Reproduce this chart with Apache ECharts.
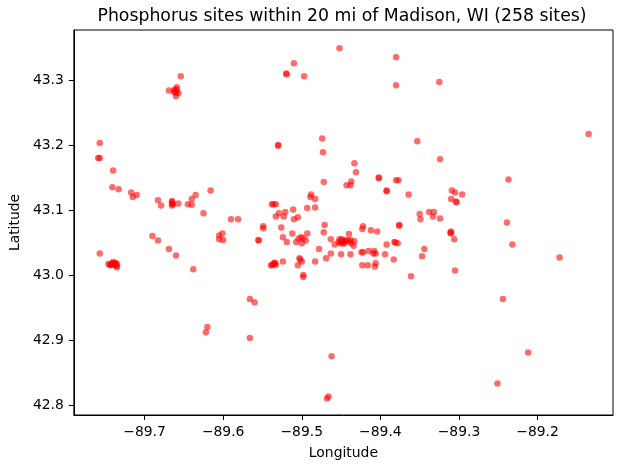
<!DOCTYPE html>
<html>
<head>
<meta charset="UTF-8">
<title>Phosphorus sites</title>
<style>
    html, body { margin: 0; padding: 0; background: #fff; }
    #chartArea { width: 623px; height: 469px; }
</style>
</head>
<body>
<div id="chartArea"></div>
<script src="https://cdn.jsdelivr.net/npm/echarts@6/dist/echarts.min.js"></script>
<script>
// site coordinates (longitude / latitude)
var lon = [
    -89.654, -89.669, -89.662, -89.659, -89.660, -89.657, -89.660, -89.661, -89.659, -89.663,
    -89.757, -89.759, -89.757, -89.740, -89.452, -89.380, -89.510, -89.520, -89.519, -89.497,
    -89.380, -89.325, -89.474, -89.530, -89.530, -89.353, -89.473, -89.324, -89.433, -89.431,
    -89.135, -89.237, -89.741, -89.733, -89.717, -89.715, -89.710, -89.683, -89.679, -89.665,
    -89.665, -89.665, -89.664, -89.665, -89.657, -89.645, -89.640, -89.640, -89.635, -89.616,
    -89.625, -89.590, -89.581, -89.549, -89.549, -89.538, -89.605, -89.601, -89.600, -89.605,
    -89.555, -89.555, -89.690, -89.683, -89.669, -89.660, -89.757,
    -89.746, -89.740, -89.738, -89.735, -89.735, -89.743, -89.741, -89.739, -89.737, -89.744,
    -89.736, -89.742, -89.638, -89.539, -89.566, -89.560, -89.620, -89.622, -89.566, -89.462,
    -89.466, -89.468, -89.244, -89.212, -89.251,
    -89.402, -89.402, -89.380, -89.377, -89.472, -89.443, -89.437, -89.438, -89.392, -89.392,
    -89.364, -89.488, -89.489, -89.483, -89.483, -89.493, -89.536, -89.533, -89.511, -89.529,
    -89.521, -89.533, -89.523, -89.505, -89.510, -89.526, -89.471, -89.472, -89.512, -89.493,
    -89.524, -89.519, -89.501, -89.504, -89.498, -89.507, -89.500, -89.495, -89.463, -89.458,
    -89.452, -89.450, -89.446, -89.453, -89.440, -89.440, -89.437, -89.433, -89.434, -89.438,
    -89.448, -89.445, -89.451, -89.443, -89.447, -89.449, -89.422, -89.423, -89.412, -89.404,
    -89.376, -89.376, -89.382, -89.378, -89.381, -89.392, -89.478, -89.469, -89.463, -89.450,
    -89.438, -89.424, -89.422, -89.415, -89.408, -89.406, -89.409, -89.394, -89.383, -89.423,
    -89.416, -89.406, -89.407, -89.502, -89.503, -89.524, -89.483, -89.535, -89.538, -89.533,
    -89.536, -89.534, -89.505, -89.500, -89.498, -89.498, -89.361, -89.344, -89.347, -89.350,
    -89.349, -89.338, -89.333, -89.332, -89.324, -89.309, -89.305, -89.296, -89.310, -89.303,
    -89.304, -89.310, -89.310, -89.311, -89.306, -89.305, -89.239, -89.232, -89.172
];
var lat = [
    43.307, 43.285, 43.286, 43.290, 43.281, 43.281, 43.276, 43.284, 43.287, 43.283,
    43.204, 43.181, 43.181, 43.162, 43.350, 43.336, 43.327, 43.311, 43.310, 43.307,
    43.293, 43.298, 43.211, 43.201, 43.200, 43.207, 43.190, 43.179, 43.173, 43.159,
    43.218, 43.148, 43.136, 43.133, 43.128, 43.121, 43.124, 43.116, 43.108, 43.115,
    43.111, 43.108, 43.110, 43.113, 43.111, 43.110, 43.118, 43.109, 43.124, 43.131,
    43.096, 43.087, 43.087, 43.076, 43.073, 43.110, 43.062, 43.065, 43.055, 43.056,
    43.054, 43.055, 43.061, 43.054, 43.041, 43.031, 43.034,
    43.018, 43.021, 43.018, 43.018, 43.013, 43.016, 43.019, 43.017, 43.020, 43.017,
    43.015, 43.018, 43.010, 43.016, 42.964, 42.959, 42.921, 42.913, 42.904, 42.876,
    42.814, 42.811, 42.964, 42.882, 42.834,
    43.150, 43.151, 43.147, 43.147, 43.144, 43.139, 43.145, 43.139, 43.130, 43.131,
    43.125, 43.125, 43.121, 43.118, 43.105, 43.104, 43.110, 43.110, 43.102, 43.096,
    43.098, 43.091, 43.091, 43.090, 43.087, 43.074, 43.078, 43.067, 43.065, 43.065,
    43.059, 43.052, 43.059, 43.057, 43.058, 43.052, 43.050, 43.054, 43.056, 43.048,
    43.056, 43.052, 43.051, 43.052, 43.064, 43.053, 43.050, 43.053, 43.046, 43.055,
    43.054, 43.053, 43.050, 43.055, 43.049, 43.056, 43.076, 43.072, 43.070, 43.068,
    43.078, 43.077, 43.052, 43.050, 43.051, 43.048, 43.041, 43.027, 43.034, 43.033,
    43.033, 43.036, 43.036, 43.038, 43.038, 43.034, 43.034, 43.033, 43.025, 43.016,
    43.016, 43.019, 43.014, 43.025, 43.027, 43.022, 43.022, 43.020, 43.016, 43.017,
    43.018, 43.019, 43.016, 43.022, 43.001, 42.998, 42.999, 43.041, 43.030, 43.095,
    43.087, 43.098, 43.091, 43.098, 43.088, 43.131, 43.128, 43.125, 43.118, 43.113,
    43.114, 43.068, 43.065, 43.066, 43.056, 43.008, 43.082, 43.048, 43.028
];
var lonTicks = [-89.7, -89.6, -89.5, -89.4, -89.3, -89.2];
var latTicks = [42.8, 42.9, 43.0, 43.1, 43.2, 43.3];

var points = [];
for (var i = 0; i < lon.length; i++) {
    points.push([lon[i], lat[i]]);
}

var font = 'DejaVu Sans';
function fmt(v) {
    var s = Math.abs(v).toFixed(1);
    return v < 0 ? '\u2212' + s : s;
}

var myChart = echarts.init(document.getElementById('chartArea'));
myChart.setOption({
    animation: false,
    backgroundColor: '#fff',
    textStyle: { fontFamily: font },
    grid: {
        left: 71, right: 10, top: 30, bottom: 54,
        show: true,
        borderColor: '#000',
        borderWidth: 1,
        backgroundColor: 'transparent'
    },
    graphic: [{
        type: 'text',
        x: 342,
        y: 8,
        style: {
            text: 'Phosphorus sites within 20 mi of Madison, WI (258 sites)',
            fontFamily: font,
            fontSize: 17.3,
            fill: '#000',
            align: 'center',
            verticalAlign: 'top'
        }
    }],
    xAxis: {
        type: 'value',
        min: -89.790,
        max: -89.104,
        name: 'Longitude',
        nameLocation: 'middle',
        nameGap: 31,
        nameTextStyle: { fontFamily: font, fontSize: 13.9, color: '#000' },
        splitLine: { show: false },
        axisLine: { show: true, onZero: false, lineStyle: { color: '#000', width: 1 } },
        axisTick: { show: true, length: 5, customValues: lonTicks, lineStyle: { color: '#000' } },
        axisLabel: {
            customValues: lonTicks,
            formatter: fmt,
            fontFamily: font, fontSize: 13.9, color: '#000', margin: 10
        }
    },
    yAxis: {
        type: 'value',
        min: 42.7857,
        max: 43.378,
        name: 'Latitude',
        nameLocation: 'middle',
        nameGap: 43,
        nameTextStyle: { fontFamily: font, fontSize: 13.9, color: '#000' },
        splitLine: { show: false },
        axisLine: { show: true, onZero: false, lineStyle: { color: '#000', width: 1 } },
        axisTick: { show: true, length: 5, customValues: latTicks, lineStyle: { color: '#000' } },
        axisLabel: {
            customValues: latTicks,
            formatter: fmt,
            fontFamily: font, fontSize: 13.9, color: '#000', margin: 10
        }
    },
    series: [{
        type: 'scatter',
        data: points,
        symbolSize: 6.5,
        itemStyle: { color: 'rgba(255,0,0,0.72)' }
    }]
});
</script>
</body>
</html>
